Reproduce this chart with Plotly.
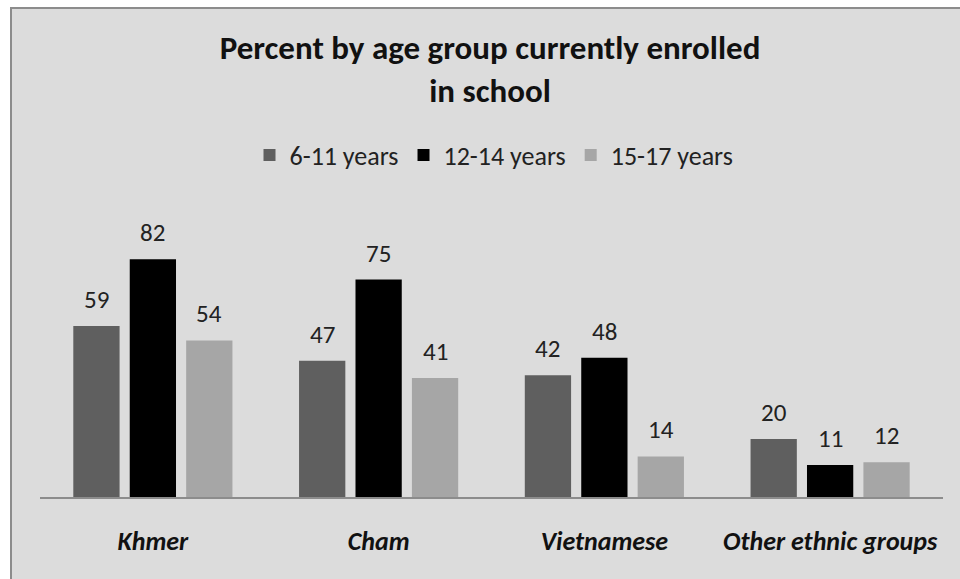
#!/usr/bin/env python3

import plotly.graph_objects as go

categories = ["Khmer", "Cham", "Vietnamese", "Other ethnic groups"]
age_groups = ["6-11 years", "12-14 years", "15-17 years"]
age_6_11 = [59, 47, 42, 20]
age_12_14 = [82, 75, 48, 11]
age_15_17 = [54, 41, 14, 12]

colors = ["#5f5f5f", "#000000", "#a6a6a6"]
FONT = "Carlito, Lato, sans-serif"

W, H = 960, 579


def main():
    fig = go.Figure()
    series = [age_6_11, age_12_14, age_15_17]

    for name, vals, col in zip(age_groups, series, colors):
        fig.add_trace(go.Bar(x=categories, y=vals, name=name,
                             marker=dict(color=col, line=dict(width=0))))

    # data labels above each bar (Excel-style gap)
    slot = (903 / 4) * 0.75 / 3
    for i, vals in enumerate(series):
        for cat, v in zip(categories, vals):
            fig.add_annotation(x=cat, y=v, text=str(v), showarrow=False,
                               xshift=(i - 1) * slot, yshift=9, yanchor="bottom",
                               font=dict(family=FONT, size=25, color="#222222"))

    # chart area frame
    fig.add_shape(type="rect", xref="paper", yref="paper",
                  x0=11 / W, x1=1.05, y0=-0.05, y1=1 - 8 / H,
                  fillcolor="#dcdcdc", line=dict(color="#8c8c8c", width=2),
                  layer="below")

    fig.update_layout(
        width=W, height=H,
        margin=dict(l=0, r=0, t=0, b=0),
        paper_bgcolor="white",
        plot_bgcolor="rgba(0,0,0,0)",
        barmode="group", bargap=0.25, bargroupgap=0.18,
        title=dict(text="Percent by age group currently enrolled<br>in school",
                   x=490 / W, xanchor="center", y=1 - 59 / H, yanchor="middle",
                   font=dict(family=FONT, size=33, color="#111111", weight="bold")),
        legend=dict(orientation="h", x=494 / W, xanchor="center",
                    y=1 - 155 / H, yanchor="middle",
                    font=dict(family=FONT, size=26, color="#222222"),
                    bgcolor="rgba(0,0,0,0)"),
        showlegend=True,
    )
    fig.update_xaxes(domain=[40 / W, 943 / W], showline=True, linecolor="#8c8c8c",
                     linewidth=2, ticks="", ticklabelstandoff=20,
                     tickfont=dict(family=FONT, size=26, color="#111111",
                                   weight="bold", style="italic"))
    fig.update_yaxes(domain=[82 / H, (579 - 236) / H], range=[0, 90],
                     visible=False, showgrid=False)

    fig.write_html("out.html", config={"displayModeBar": False},
                   post_script="document.body.style.margin='0';"
                               "document.body.style.overflow='hidden';")


if __name__ == '__main__':
    main()
